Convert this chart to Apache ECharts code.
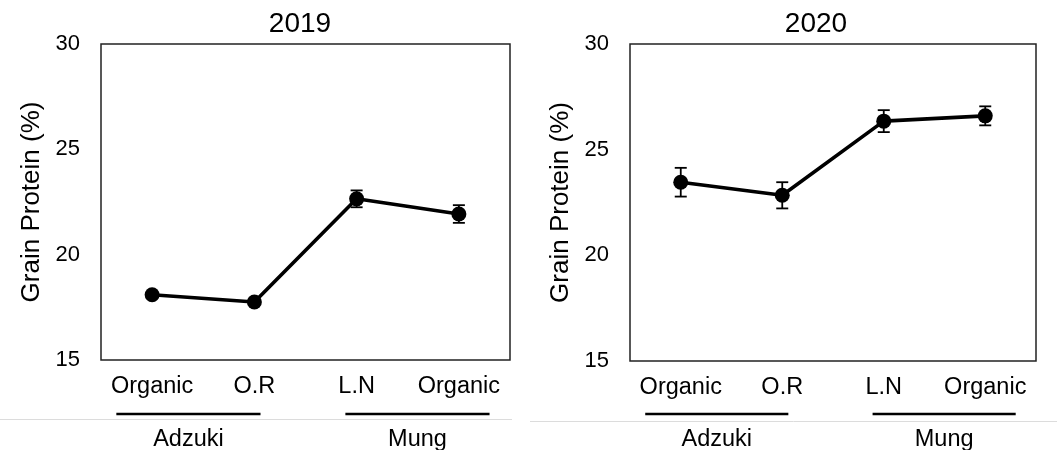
<!DOCTYPE html>
<html>
<head>
<meta charset="utf-8">
<script src="https://cdn.jsdelivr.net/npm/echarts@6/dist/echarts.min.js"></script>
<style>
html,body{margin:0;padding:0;background:#fff;}
#chart{width:1057px;height:450px;}
</style>
</head>
<body>
<div id="chart"></div>
<script>
// ---- data ----
const categories = ['Organic', 'O.R', 'L.N', 'Organic'];
const years = ['2019', '2020'];
const mean2019 = [18.1, 17.75, 22.65, 21.93];
const err2019 = [0.1, 0.1, 0.4, 0.42];
const mean2020 = [23.46, 22.84, 26.35, 26.6];
const err2020 = [0.68, 0.62, 0.52, 0.45];
const yTicks = [15, 20, 25, 30];
const groupNames = ['Adzuki', 'Mung'];
const groupFrom = [0, 2]; // first category index of group
const groupTo = [1, 3];   // last category index of group

const FONT = 'Liberation Sans, Arial, sans-serif';
const chart = echarts.init(document.getElementById('chart'), null, {renderer: 'canvas'});

const grids = [
  {left: 101, top: 44, width: 409, height: 316},
  {left: 630, top: 44, width: 406, height: 317}
];
const titleX = [295, 811];

function errItem(params, api) {
  const x = api.value(0), m = api.value(1), e = api.value(2);
  const t = api.coord([x, m + e]);
  const b = api.coord([x, m - e]);
  const w = 6;
  const st = {stroke: '#000', lineWidth: 1.8};
  return {type: 'group', children: [
    {type: 'line', shape: {x1: t[0], y1: t[1], x2: b[0], y2: b[1]}, style: st},
    {type: 'line', shape: {x1: t[0] - w, y1: t[1], x2: t[0] + w, y2: t[1]}, style: st},
    {type: 'line', shape: {x1: b[0] - w, y1: b[1], x2: b[0] + w, y2: b[1]}, style: st}
  ]};
}

const means = [mean2019, mean2020];
const errs = [err2019, err2020];

const option = {
  animation: false,
  backgroundColor: '#fff',
  title: years.map((y, i) => ({
    text: y, left: titleX[i], top: 5, textAlign: 'center',
    textStyle: {fontFamily: FONT, fontSize: 28, fontWeight: 'normal', color: '#000'}
  })),
  grid: grids.map(g => Object.assign({show: true, borderColor: '#222', borderWidth: 1.5, backgroundColor: 'transparent'}, g)),
  xAxis: grids.map((g, i) => ({
    type: 'category', gridIndex: i, data: categories, boundaryGap: true,
    axisLine: {show: false}, axisTick: {show: false},
    axisLabel: {fontFamily: FONT, fontSize: 23.5, color: '#000', margin: 15, interval: 0}
  })),
  yAxis: grids.map((g, i) => ({
    type: 'value', gridIndex: i, min: yTicks[0], max: yTicks[yTicks.length - 1], interval: 5,
    name: 'Grain Protein (%)', nameLocation: 'middle', nameGap: 56, nameRotate: 90,
    nameTextStyle: {fontFamily: FONT, fontSize: 26, color: '#000'},
    axisLine: {show: false}, axisTick: {show: false}, splitLine: {show: false},
    axisLabel: {fontFamily: FONT, fontSize: 22, color: '#000', margin: 21}
  })),
  series: []
};
for (let i = 0; i < 2; i++) {
  option.series.push({
    type: 'custom', xAxisIndex: i, yAxisIndex: i, renderItem: errItem, z: 3,
    data: means[i].map((m, k) => [k, m, errs[i][k]])
  });
  option.series.push({
    type: 'line', xAxisIndex: i, yAxisIndex: i, data: means[i],
    symbol: 'circle', symbolSize: 15,
    lineStyle: {color: '#000', width: 3.6},
    itemStyle: {color: '#000'}, z: 4
  });
}
chart.setOption(option);

// group brackets under category labels, placed from the category axis
const graphics = [];
const groupPadL = [0.35, 0.11];
const groupPadR = [0.06, 0.30];
for (let i = 0; i < 2; i++) {
  const p0 = chart.convertToPixel({xAxisIndex: i}, 0);
  const p1 = chart.convertToPixel({xAxisIndex: i}, 1);
  const band = p1 - p0;
  for (let g = 0; g < groupNames.length; g++) {
    const a = chart.convertToPixel({xAxisIndex: i}, groupFrom[g]) - groupPadL[g] * band;
    const b = chart.convertToPixel({xAxisIndex: i}, groupTo[g]) + groupPadR[g] * band;
    graphics.push({type: 'line', shape: {x1: a, y1: 414, x2: b, y2: 414}, style: {stroke: '#000', lineWidth: 2.5}});
    graphics.push({type: 'text', x: (a + b) / 2, y: 440, style: {text: groupNames[g], font: '23.5px ' + FONT, fill: '#000', textAlign: 'center', textVerticalAlign: 'middle'}});
  }
}
graphics.push({type: 'line', shape: {x1: 0, y1: 419.5, x2: 512, y2: 419.5}, style: {stroke: '#dcdcdc', lineWidth: 1}});
graphics.push({type: 'line', shape: {x1: 530, y1: 421.5, x2: 1057, y2: 421.5}, style: {stroke: '#dcdcdc', lineWidth: 1}});
chart.setOption({graphic: graphics});
</script>
</body>
</html>
